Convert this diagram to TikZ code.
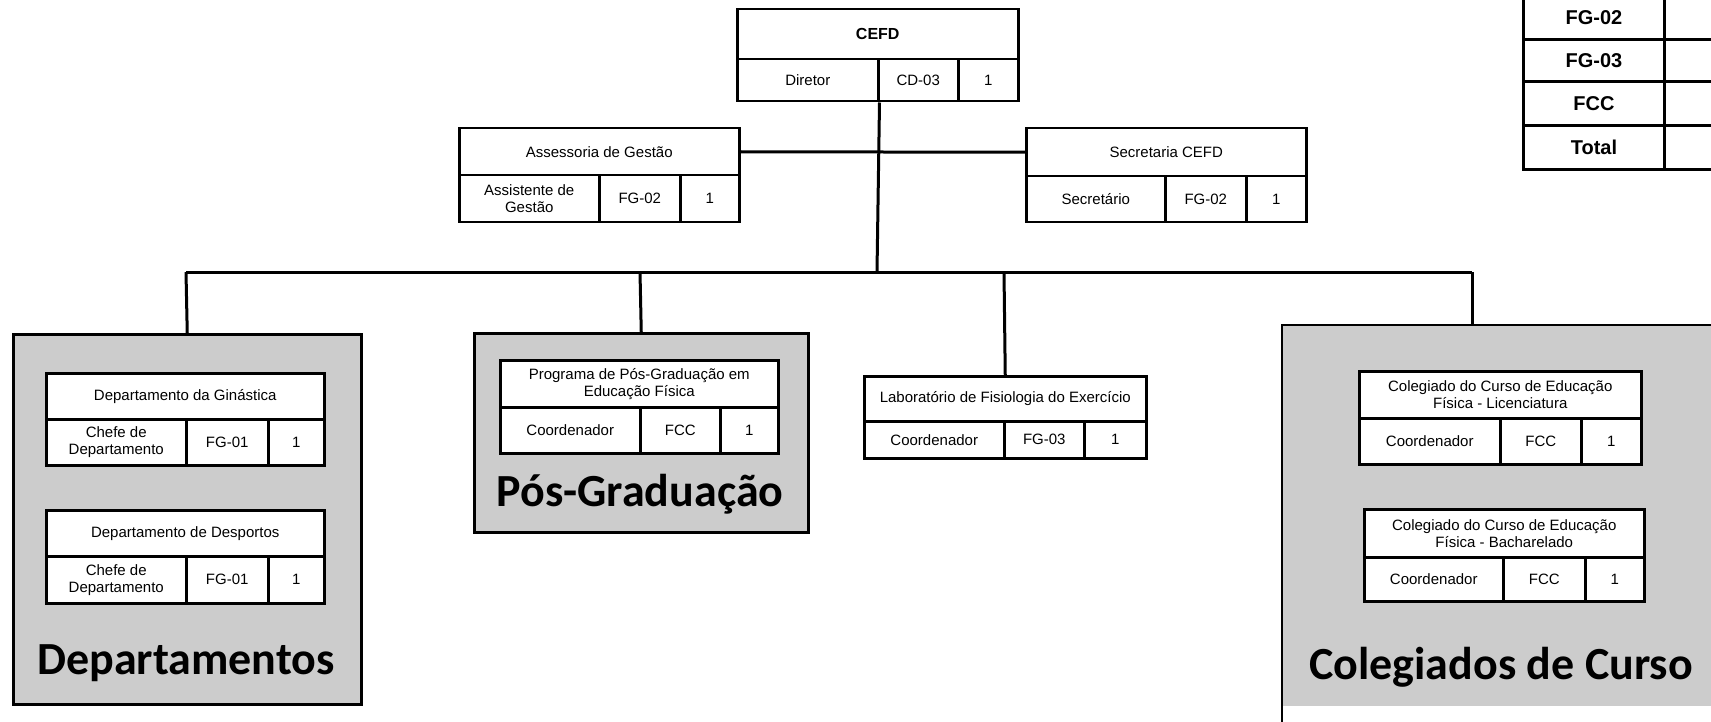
\documentclass[tikz,border=0pt]{standalone}
\usepackage{fontspec}
\setmainfont{Liberation Sans}
\newfontfamily\biglab{Carlito}
\tikzset{
  cellbox/.style={draw, line width=2.5pt, fill=white, inner sep=0pt, align=center, anchor=north west, font=\fontsize{15}{17}\selectfont},
  groupbox/.style={fill=black!20, draw, line width=2.5pt, anchor=north west, inner sep=0pt},
  conn/.style={line width=3pt},
  grouplabel/.style={font=\biglab\bfseries\fontsize{46}{50}\selectfont, inner sep=0pt, anchor=base},
  tabcell/.style={draw, line width=3pt, anchor=north west, inner sep=0pt, fill=white, font=\bfseries\fontsize{20}{22}\selectfont},
}
\newcommand\pbox[9]{%
  \def\pbxa{#2}\def\pbxb{#3}\def\pbym{#5}\def\pbyb{#6}\def\pbda{#7}\def\pbdb{#8}%
  \node[cellbox, minimum width={(#3-#2)*1pt}, minimum height={(#5-#4)*1pt}] (#1) at (#2,#4) {#9};}
\newcommand\prow[4]{%
  \node[cellbox, minimum width={(\pbda-\pbxa)*1pt}, minimum height={(\pbyb-\pbym)*1pt}] (#1-r) at (\pbxa,\pbym) {#2};
  \node[cellbox, minimum width={(\pbdb-\pbda)*1pt}, minimum height={(\pbyb-\pbym)*1pt}] (#1-c) at (\pbda,\pbym) {#3};
  \node[cellbox, minimum width={(\pbxb-\pbdb)*1pt}, minimum height={(\pbyb-\pbym)*1pt}] (#1-n) at (\pbdb,\pbym) {#4};}
\begin{document}
\begin{tikzpicture}[x=1pt,y=-1pt]
\useasboundingbox (0,0) rectangle (1711,722);

% group backgrounds
\node[groupbox, minimum width=348pt, minimum height=370pt] (dep) at (12,333) {};
\node[groupbox, minimum width=334pt, minimum height=199pt] (pos) at (473,332) {};
\node[groupbox, draw=none, minimum width=440pt, minimum height=380pt] (colg) at (1282,325) {};
\coordinate (colbot) at (1282,722);
\draw[line width=2.5pt] (colg.north east) -- (colg.north west) -- (colbot);

% CEFD
\pbox{cefd}{736}{1017}{8}{58}{100}{877}{957}{\bfseries\fontsize{16}{18}\selectfont CEFD}
\prow{cefd}{Diretor}{CD-03}{1}

% Assessoria
\pbox{ass}{458}{738}{127}{174}{221}{598}{679}{Assessoria de Gestão}
\prow{ass}{Assistente de\\Gestão}{FG-02}{1}

% Secretaria
\pbox{sec}{1025}{1305}{127}{175}{221}{1164}{1245}{Secretaria CEFD}
\prow{sec}{Secretário}{FG-02}{1}

% Departamentos
\pbox{gin}{45}{323}{372}{418}{464}{185}{267}{Departamento da Ginástica}
\prow{gin}{Chefe de\\Departamento}{FG-01}{1}
\pbox{des}{45}{323}{509}{555}{602}{185}{267}{Departamento de Desportos}
\prow{des}{Chefe de\\Departamento}{FG-01}{1}
\node[grouplabel] (deplab) at (186,674) {Departamentos};

% Pos-Graduacao
\pbox{ppg}{499}{777}{359}{406}{452}{639}{719}{Programa de Pós-Graduação em\\Educação Física}
\prow{ppg}{Coordenador}{FCC}{1}
\node[grouplabel] (poslab) at (640,506) {Pós-Graduação};

% Laboratorio
\pbox{lab}{863}{1145}{375}{420}{457}{1003}{1083}{Laboratório de Fisiologia do Exercício}
\prow{lab}{Coordenador}{FG-03}{1}

% Colegiados
\pbox{lic}{1358}{1640}{370}{417}{463}{1499}{1580}{Colegiado do Curso de Educação\\Física - Licenciatura}
\prow{lic}{Coordenador}{FCC}{1}
\pbox{bac}{1363}{1643}{508}{556}{600}{1502}{1584}{Colegiado do Curso de Educação\\Física - Bacharelado}
\prow{bac}{Coordenador}{FCC}{1}
\node[grouplabel] (collab) at (1501,679) {Colegiados de Curso};

% summary table (top right)
\node[tabcell, minimum width=141pt, minimum height=43pt] (t1a) at (1522,-5) {FG-02};
\node[tabcell, minimum width=70pt, minimum height=43pt] (t1b) at (1663,-5) {};
\node[tabcell, minimum width=141pt, minimum height=42pt] (t2a) at (1522,38) {FG-03};
\node[tabcell, minimum width=70pt, minimum height=42pt] (t2b) at (1663,38) {};
\node[tabcell, minimum width=141pt, minimum height=44pt] (t3a) at (1522,80) {FCC};
\node[tabcell, minimum width=70pt, minimum height=44pt] (t3b) at (1663,80) {};
\node[tabcell, minimum width=141pt, minimum height=44pt] (t4a) at (1522,124) {Total};
\node[tabcell, minimum width=70pt, minimum height=44pt] (t4b) at (1663,124) {};

% connectors
\coordinate (hub) at (877,272);
\coordinate (busL) at (186,272);
\coordinate (busP) at (640,272);
\coordinate (busB) at (1004,272);
\coordinate (busR) at (1472,272);
\draw[conn] (cefd-r.south east) -- (hub);
\draw[conn] (ass.east) -- (sec.west);
\draw[conn] (busL) -- (busR);
\draw[conn] (busL) -- (dep.north);
\draw[conn] (busP) -- (pos.north);
\draw[conn] (busB) -- (lab.north);
\draw[conn] (busR) -- (busR |- colg.north);
\end{tikzpicture}
\end{document}
